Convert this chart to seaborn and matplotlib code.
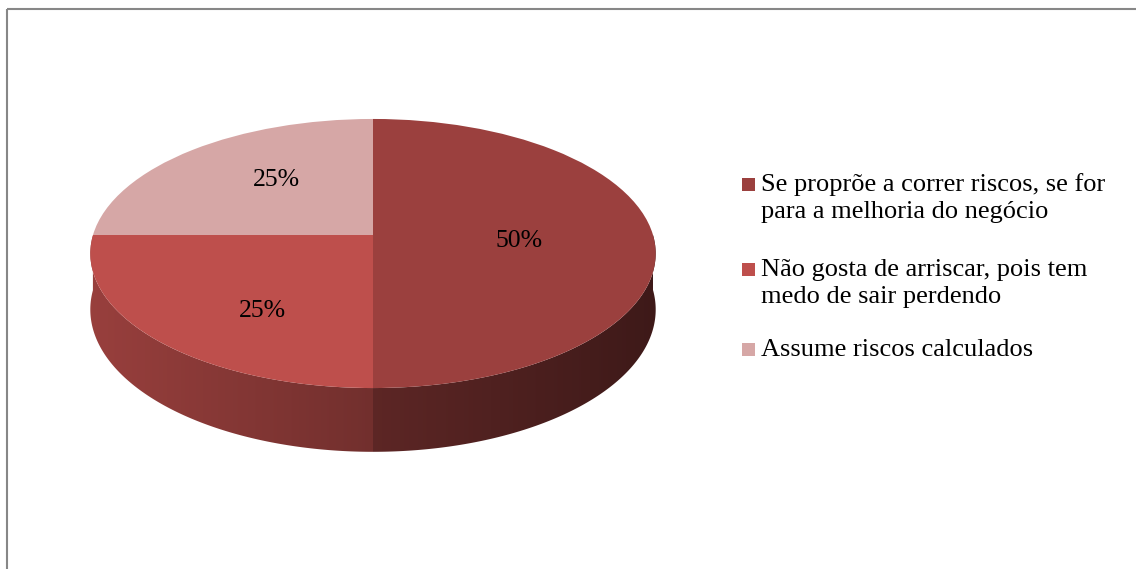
import numpy as np
import matplotlib
matplotlib.use("Agg")
import matplotlib.pyplot as plt
import seaborn as sns
from matplotlib import transforms as mtransforms
from matplotlib.patches import Rectangle, Polygon
import matplotlib.colors as mcolors

# ---- data ----
categories = ["Se proprõe a correr riscos, se for\npara a melhoria do negócio",
              "Não gosta de arriscar, pois tem\nmedo de sair perdendo",
              "Assume riscos calculados"]
values = [50, 25, 25]
colors = ["#9B403E", "#BE4F4C", "#D6A7A6"]

sns.set_theme(style="white")
plt.rcParams['font.family'] = ['Liberation Serif', 'DejaVu Serif']

W, H = 1136, 569
fig = plt.figure(figsize=(W / 100, H / 100), dpi=100)
ax = fig.add_axes([0, 0, 1, 1])

# perspective parameters of the 3-D disc (pixel space)
CX, CY, RX, RY, A, D = 373, 235, 280, 132, 0.1375, 55


def project(u, v, z=0.0):
    w = 1.0 / (1.0 + A * v)
    return CX + RX * u * w, CY + (-RY * v + D * z) * w


class Persp(mtransforms.Transform):
    input_dims = output_dims = 2
    is_separable = False
    has_inverse = False

    def transform_non_affine(self, values):
        values = np.asarray(values, float)
        x, y = project(values[:, 0], values[:, 1])
        return np.column_stack([x, y])


wedges, texts, autotexts = ax.pie(
    values, colors=colors, startangle=90, counterclock=False,
    autopct='%1.0f%%', pctdistance=0.55,
    wedgeprops=dict(linewidth=0), textprops=dict(fontsize=18.5, color='black'))

persp = Persp()
for wd in wedges:
    wd.set_transform(persp + ax.transData)
    wd.set_zorder(3)

for t in autotexts:
    x, y = t.get_position()
    px, py = project(x * 0.95, y * 1.27)
    t.set_position((px, py + 6))
    t.set_zorder(5)

ax.set_aspect('auto')
ax.set_xlim(0, W)
ax.set_ylim(H, 0)
ax.axis('off')

# side wall of the front half, with horizontal shading gradient
for wd, col in zip(wedges, colors):
    th = np.radians(np.linspace(wd.theta1, wd.theta2, 721))
    th = th[np.sin(th) <= 1e-9]
    if len(th) < 2:
        continue
    xt, yt = project(np.cos(th), np.sin(th))
    xb, yb = project(np.cos(th), np.sin(th), 1.0)
    pts = np.vstack([np.column_stack([xt, yt]), np.column_stack([xb, yb])[::-1]])
    poly = Polygon(pts, closed=True, facecolor='none', edgecolor='none',
                   transform=ax.transData)
    ax.add_patch(poly)
    base = np.array(mcolors.to_rgb(col))
    x0, x1 = pts[:, 0].min() - 1, pts[:, 0].max() + 1
    xs = np.linspace(x0, x1, 400)
    u = (xs - CX) / RX
    f = 0.6 - 0.2 * np.clip(u, -1, 1)
    img = np.clip(base[None, :] * f[:, None], 0, 1)[None, :, :]
    im = ax.imshow(img, extent=(x0, x1, pts[:, 1].max() + 1, pts[:, 1].min() - 1),
                   aspect='auto', interpolation='bilinear', zorder=2)
    im.set_clip_path(poly)

ax.set_xlim(0, W)
ax.set_ylim(H, 0)

# legend
entry_baselines = [191, 276, 356]
line_step = 26.7
for lab, col, yb in zip(categories, colors, entry_baselines):
    ax.add_patch(Rectangle((742, yb - 13), 13, 13, facecolor=col, edgecolor='none', zorder=4))
    for i, line in enumerate(lab.split("\n")):
        ax.text(761, yb + i * line_step, line, fontsize=19, va='baseline', ha='left',
                color='black', zorder=5)

# chart border
ax.add_patch(Rectangle((6.5, 8.5), W + 60, H + 60, fill=False, edgecolor='#878787',
                       linewidth=1.5, zorder=6, clip_on=False))

fig.savefig("out.png", dpi=100)
